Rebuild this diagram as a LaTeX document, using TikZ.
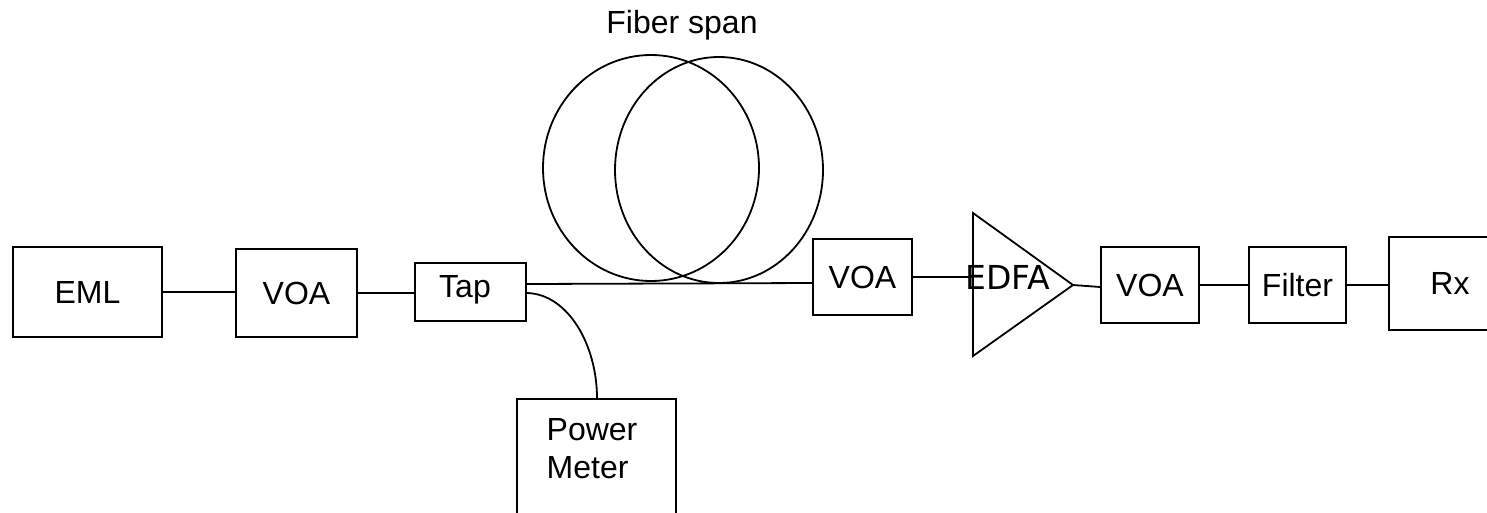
\documentclass[tikz,border=0pt]{standalone}
\usepackage{fontspec}
\setmainfont{Liberation Sans}
\newfontfamily\dejavu{DejaVu Sans}
\begin{document}
\begin{tikzpicture}[x=1pt,y=-1pt,
  line width=1.8pt,
  every node/.style={font=\fontsize{32}{38}\selectfont},
  blk/.style={draw,line width=1.8pt,inner sep=0pt,rectangle},
  wire/.style={draw,line width=1.8pt}]
\useasboundingbox (0,0) rectangle (1487,512);
\clip (0,0) rectangle (1487,512);
% boxes
\node[blk,minimum width=149,minimum height=90] (eml) at (87.5,292) {EML};
\node[blk,minimum width=121,minimum height=88] (voa1) at (296.5,293) {VOA};
\node[blk,minimum width=111,minimum height=58] (tap) at (470.5,292) {};
\node[inner sep=0pt] (taptext) at (465,290) {Tap};
\node[blk,minimum width=99,minimum height=76] (voa2) at (862.5,277) {VOA};
\node[blk,minimum width=98,minimum height=76] (voa3) at (1150,285) {VOA};
\node[blk,minimum width=97,minimum height=76] (filter) at (1297.5,285) {Filter};
\node[blk,minimum width=122,minimum height=93] (rx) at (1450,283.5) {Rx};
\node[blk,minimum width=159,minimum height=141] (pm) at (596.5,469.5) {};
\node[align=left,inner sep=0pt] (pmtext) at (592,449) {Power\\Meter};
% fiber span
\draw (651,168) ellipse [x radius=108, y radius=113];
\draw (719,170) ellipse [x radius=104, y radius=113];
\node (fibertext) at (682,25) {Fiber span};
% EDFA
\coordinate (edfaTop) at (973,213);
\coordinate (edfaBot) at (973,356);
\coordinate (edfaTip) at (1073,285);
\draw (edfaTop) -- (edfaTip) -- (edfaBot) -- cycle;
\node[font=\dejavu\fontsize{33}{38}\selectfont] (edfa) at (1008,277) {EDFA};
% connectors
\draw (eml.east) -- (voa1.west |- eml.east);
\draw (voa1.east |- 0,293) -- (tap.west |- 0,293);
\draw (tap.east |- 0,284) -- (voa2.west |- 0,283);
\draw (tap.east |- 0,293) .. controls (568,294) and (597,345) .. (597,0 |- pm.north);
\draw (voa2.east) -- (edfaTop |- voa2.east);
\draw (edfaTip) -- (voa3.west |- 0,287);
\draw (voa3.east) -- (filter.west);
\draw (filter.east) -- (rx.west |- filter.east);
\end{tikzpicture}
\end{document}
